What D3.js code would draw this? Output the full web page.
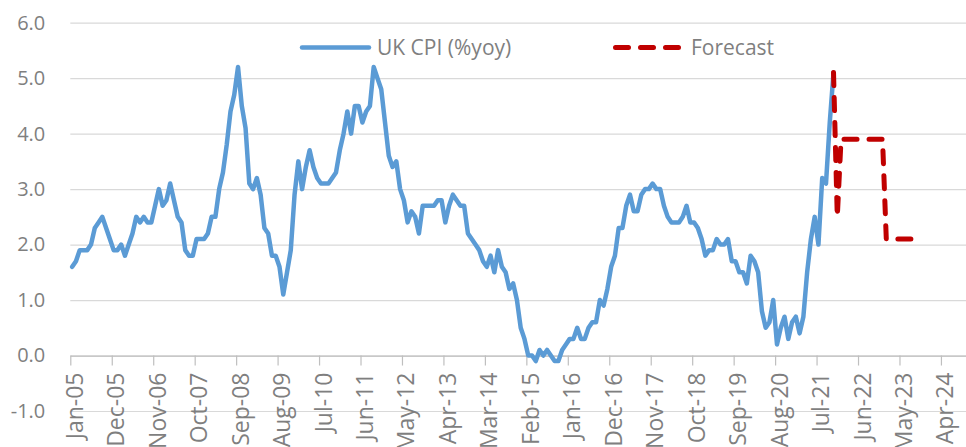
<!DOCTYPE html>
<html>
<head>
<meta charset="utf-8">
<script src="https://cdn.jsdelivr.net/npm/d3@7"></script>
<style>
  body { margin: 0; background: #fff; }
  text { font-family: "Open Sans", "Noto Sans", sans-serif; fill: #7f7f7f; }
  .grid line { stroke: #d9d9d9; stroke-width: 1.2; }
  .grid .domain { display: none; }
  .xaxis line, .xaxis path { stroke: #bfbfbf; stroke-width: 1.2; }
  .line { fill: none; stroke-linejoin: round; stroke-linecap: round; }
</style>
</head>
<body>
<div id="chart"></div>
<script>
// monthly UK CPI (%yoy), Jan-05 .. Nov-21
const cpi = [
  1.6,1.7,1.9,1.9,1.9,2.0,2.3,2.4,2.5,2.3,2.1,1.9,   // 2005
  1.9,2.0,1.8,2.0,2.2,2.5,2.4,2.5,2.4,2.4,2.7,3.0,   // 2006
  2.7,2.8,3.1,2.8,2.5,2.4,1.9,1.8,1.8,2.1,2.1,2.1,   // 2007
  2.2,2.5,2.5,3.0,3.3,3.8,4.4,4.7,5.2,4.5,4.1,3.1,   // 2008
  3.0,3.2,2.9,2.3,2.2,1.8,1.8,1.6,1.1,1.5,1.9,2.9,   // 2009
  3.5,3.0,3.4,3.7,3.4,3.2,3.1,3.1,3.1,3.2,3.3,3.7,   // 2010
  4.0,4.4,4.0,4.5,4.5,4.2,4.4,4.5,5.2,5.0,4.8,4.2,   // 2011
  3.6,3.4,3.5,3.0,2.8,2.4,2.6,2.5,2.2,2.7,2.7,2.7,   // 2012
  2.7,2.8,2.8,2.4,2.7,2.9,2.8,2.7,2.7,2.2,2.1,2.0,   // 2013
  1.9,1.7,1.6,1.8,1.5,1.9,1.6,1.5,1.2,1.3,1.0,0.5,   // 2014
  0.3,0.0,0.0,-0.1,0.1,0.0,0.1,0.0,-0.1,-0.1,0.1,0.2, // 2015
  0.3,0.3,0.5,0.3,0.3,0.5,0.6,0.6,1.0,0.9,1.2,1.6,   // 2016
  1.8,2.3,2.3,2.7,2.9,2.6,2.6,2.9,3.0,3.0,3.1,3.0,   // 2017
  3.0,2.7,2.5,2.4,2.4,2.4,2.5,2.7,2.4,2.4,2.3,2.1,   // 2018
  1.8,1.9,1.9,2.1,2.0,2.0,2.1,1.7,1.7,1.5,1.5,1.3,   // 2019
  1.8,1.7,1.5,0.8,0.5,0.6,1.0,0.2,0.5,0.7,0.3,0.6,   // 2020
  0.7,0.4,0.7,1.5,2.1,2.5,2.0,3.2,3.1,4.2,5.1        // 2021
];

// forecast path, Nov-21 .. Sep-23
const forecastStart = 202;
const forecast = [
  5.1, 2.5,
  3.9,3.9,3.9,3.9,3.9,3.9,3.9,3.9,3.9,3.9,3.9,3.9,
  2.1,2.1,2.1,2.1,2.1,2.1,2.1,2.1,2.1
];

// axis labels, one every 11 months
const tickLabels = ["Jan-05","Dec-05","Nov-06","Oct-07","Sep-08","Aug-09","Jul-10","Jun-11",
  "May-12","Apr-13","Mar-14","Feb-15","Jan-16","Dec-16","Nov-17","Oct-18","Sep-19",
  "Aug-20","Jul-21","Jun-22","May-23","Apr-24"];
const tickStep = 11;
const nMonths = 240;
const yTicks = [-1, 0, 1, 2, 3, 4, 5, 6];

const seriesNames = ["UK CPI (%yoy)", "Forecast"];

// set the dimensions and margins of the graph
const margin = {top: 22.7, right: 0, bottom: 36, left: 70.3},
    width = 966 - margin.left - margin.right,
    height = 447 - margin.top - margin.bottom;

const svg = d3.select("#chart")
  .append("svg")
    .attr("width", 966)
    .attr("height", 447)
  .append("g")
    .attr("transform", `translate(${margin.left},${margin.top})`);

// scales
var x = d3.scaleLinear().domain([0, nMonths]).range([0, nMonths * 3.769]);
var y = d3.scaleLinear().domain([-1, 6]).range([height, 0]);

// gridlines + y labels
svg.append("g")
    .attr("class", "grid")
    .call(d3.axisLeft(y).tickValues(yTicks).tickSize(-width).tickPadding(25)
      .tickFormat(d => d.toFixed(1)))
  .selectAll("text")
    .style("font-size", "20px");

// x axis on the zero line
const xAxis = svg.append("g")
    .attr("class", "xaxis")
    .attr("transform", `translate(0,${y(0)})`)
    .call(d3.axisBottom(x)
      .tickValues(tickLabels.map((d, i) => i * tickStep))
      .tickFormat((d, i) => tickLabels[i])
      .tickSize(10).tickSizeOuter(0));

xAxis.selectAll("text")
    .attr("transform", "rotate(-90)")
    .attr("text-anchor", "end")
    .attr("x", -17)
    .attr("y", 12)
    .attr("dy", null)
    .style("font-size", "23px");

// points sit in the middle of each month
var cpiLine = d3.line()
    .x((d, i) => x(i + 0.5))
    .y(d => y(d));

var fcLine = d3.line()
    .x((d, i) => x(forecastStart + i + 0.5))
    .y(d => y(d));

svg.append("path")
    .datum(cpi)
    .attr("class", "line")
    .style("stroke", "#5b9bd5")
    .style("stroke-width", 4.5)
    .attr("d", cpiLine);

svg.append("path")
    .datum(forecast)
    .attr("class", "line")
    .style("stroke", "#c00000")
    .style("stroke-width", 5)
    .style("stroke-dasharray", "13,12")
    .attr("d", fcLine);

// legend
const legend = d3.select("svg").append("g");

legend.append("line")
    .attr("x1", 302).attr("x2", 369)
    .attr("y1", 47.5).attr("y2", 47.5)
    .style("stroke", "#5b9bd5").style("stroke-width", 4.5)
    .style("stroke-linecap", "round");
legend.append("text")
    .attr("x", 377).attr("y", 55)
    .style("font-size", "21px")
    .text(seriesNames[0]);

legend.append("line")
    .attr("x1", 615.5).attr("x2", 681)
    .attr("y1", 47.5).attr("y2", 47.5)
    .style("stroke", "#c00000").style("stroke-width", 5)
    .style("stroke-dasharray", "13,12")
    .style("stroke-linecap", "round");
legend.append("text")
    .attr("x", 691).attr("y", 55)
    .style("font-size", "21px")
    .text(seriesNames[1]);
</script>
</body>
</html>
